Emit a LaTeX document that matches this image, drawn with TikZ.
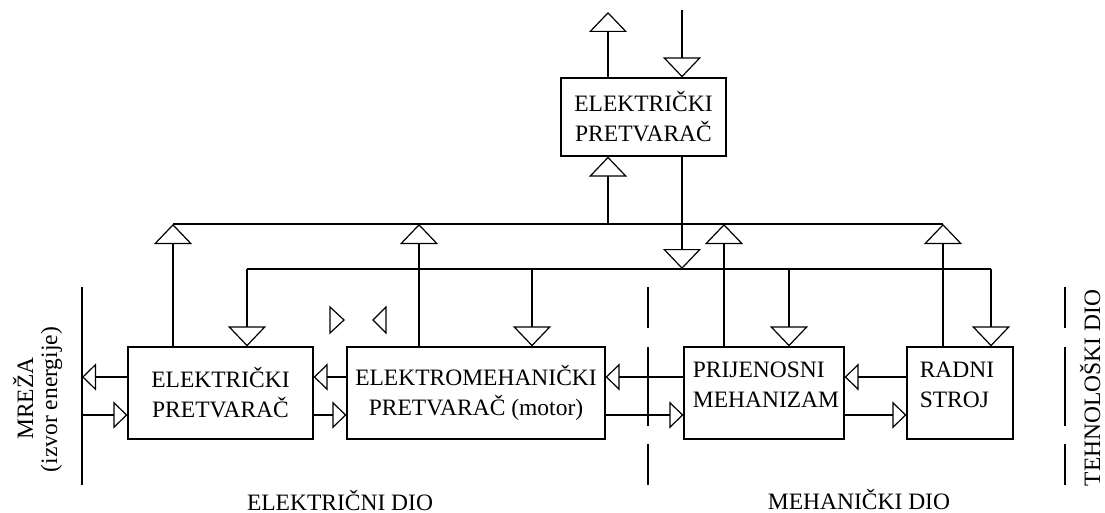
\documentclass[tikz,border=0pt]{standalone}
\usepackage{fontspec}
\setmainfont{Liberation Serif}
\usetikzlibrary{arrows.meta}
\tikzset{
  V/.tip={Triangle[open,length=20pt,width=38pt,line join=miter]},
  H/.tip={Triangle[open,length=14pt,width=27pt,line join=miter]},
  blk/.style={draw,line width=1.2pt,inner sep=0pt,align=center,font=\fontsize{23.5}{30}\selectfont},
  lbl/.style={inner sep=0pt,align=left,font=\fontsize{23.5}{30}\selectfont},
  wire/.style={line width=1.2pt},
}
\begin{document}
\begin{tikzpicture}[x=1pt,y=-1pt]
\useasboundingbox (0,0) rectangle (1105,513);
% boxes
\node[blk,minimum width=165pt,minimum height=78pt] (top) at (643.5,117) {ELEKTRIČKI\\PRETVARAČ};
\node[blk,minimum width=185pt,minimum height=92pt] (left) at (220.5,393) {ELEKTRIČKI\\PRETVARAČ};
\node[blk,minimum width=258pt,minimum height=92pt] (mid) at (476,393) {ELEKTROMEHANIČKI\\PRETVARAČ (motor)};
\node[blk,minimum width=160pt,minimum height=92pt] (prij) at (764,393) {};
\node[blk,minimum width=106pt,minimum height=92pt] (radni) at (960,393) {};
\node[lbl] (prijt) at (766,385) {PRIJENOSNI\\MEHANIZAM};
\node[lbl] (radnit) at (957,385) {RADNI\\STROJ};
% coordinates
\coordinate (outU) at (608,12);
\coordinate (inD) at (682,10);
\coordinate (b1top) at (608,224);
\coordinate (b2top) at (682,269);
\coordinate (b1L) at (173,224);
\coordinate (b1M) at (419,224);
\coordinate (b1P) at (724,224);
\coordinate (b1R) at (943,224);
\coordinate (b2L) at (247,269);
\coordinate (b2M) at (532,269);
\coordinate (b2P) at (789,269);
\coordinate (b2R) at (991,269);
\coordinate (yU) at (0,377);
\coordinate (yL) at (0,415);
\coordinate (mT) at (82,287);
\coordinate (mB) at (82,485);
% top converter connections
\draw[wire,-V] (top.north -| outU) -- (outU);
\draw[wire,-V] (inD) -- (inD |- top.north);
\draw[wire,-V] (b1top) -- (b1top |- top.south);
\draw[wire,-V] (top.south -| b2top) -- (b2top);
% bus 1
\draw[wire] (b1L) -- (b1R);
\draw[wire,-V] (left.north -| b1L) -- (b1L);
\draw[wire,-V] (mid.north -| b1M) -- (b1M);
\draw[wire,-V] (prij.north -| b1P) -- (b1P);
\draw[wire,-V] (radni.north -| b1R) -- (b1R);
% bus 2
\draw[wire] (b2L) -- (b2R);
\draw[wire,-V] (b2L) -- (b2L |- left.north);
\draw[wire,-V] (b2M) -- (b2M |- mid.north);
\draw[wire,-V] (b2P) -- (b2P |- prij.north);
\draw[wire,-V] (b2R) -- (b2R |- radni.north);
% network line
\draw[wire] (mT) -- (mB);
% horizontal flows
\draw[wire,-H] (left.west |- yU) -- (mT |- yU);
\draw[wire,-H] (mT |- yL) -- (left.west |- yL);
\draw[wire,-H] (mid.west |- yU) -- (left.east |- yU);
\draw[wire,-H] (left.east |- yL) -- (mid.west |- yL);
\draw[wire,-H] (prij.west |- yU) -- (mid.east |- yU);
\draw[wire,-H] (mid.east |- yL) -- (prij.west |- yL);
\draw[wire,-H] (radni.west |- yU) -- (prij.east |- yU);
\draw[wire,-H] (prij.east |- yL) -- (radni.west |- yL);
% dashed separators
\foreach \x in {648,1065}{
  \draw[wire] (\x,287) -- (\x,328);
  \draw[wire] (\x,347) -- (\x,426);
  \draw[wire] (\x,444) -- (\x,485);
}
% free small triangles
\draw[wire,line join=miter] (330,307) -- (344,320) -- (330,333) -- cycle;
\draw[wire,line join=miter] (386,307) -- (373,320) -- (386,333) -- cycle;
% labels
\node[lbl,rotate=90,anchor=base] (mreza) at (33,398.5) {MREŽA};
\node[lbl,rotate=90,anchor=base] (izvor) at (57,399.5) {(izvor energije)};
\node[lbl,rotate=90,anchor=base] (tehn) at (1100,388) {TEHNOLOŠKI DIO};
\node[lbl,anchor=base] (eldio) at (340,510) {ELEKTRIČNI DIO};
\node[lbl,anchor=base] (medio) at (859,509) {MEHANIČKI DIO};
\end{tikzpicture}
\end{document}
